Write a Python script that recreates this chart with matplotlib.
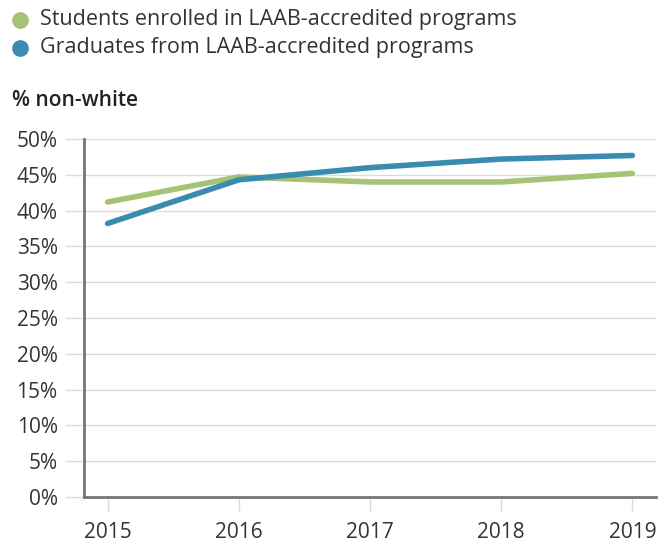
import matplotlib
matplotlib.use("Agg")
import matplotlib.pyplot as plt
from matplotlib.lines import Line2D

years = [2015, 2016, 2017, 2018, 2019]
enrolled = [41.2, 44.7, 44.0, 44.0, 45.2]
graduates = [38.2, 44.3, 46.0, 47.2, 47.7]
y_ticks = [0, 5, 10, 15, 20, 25, 30, 35, 40, 45, 50]
y_labels = [f"{v}%" for v in y_ticks]
series_names = ["Students enrolled in LAAB-accredited programs",
                "Graduates from LAAB-accredited programs"]

GREEN = "#a5c374"
BLUE = "#3a8bb0"
TEXT = "#333333"
GRID = "#dcdcdc"
AXIS = "#77766f"

plt.rcParams["font.family"] = ["Open Sans", "DejaVu Sans"]

fig = plt.figure(figsize=(6.69, 5.44), dpi=100)
ax = fig.add_axes([84 / 669, 47 / 544, (656 - 84) / 669, (497 - 139) / 544])

ax.plot(years, enrolled, color=GREEN, lw=4, solid_capstyle="round", zorder=3)
ax.plot(years, graduates, color=BLUE, lw=4, solid_capstyle="round", zorder=4)

ax.set_xlim(2014.82, 2019.18)
ax.set_ylim(0, 50)
ax.set_yticks(y_ticks)
ax.set_yticklabels(y_labels)
ax.set_xticks(years)
ax.set_xticklabels([str(y) for y in years])

ax.grid(axis="y", color=GRID, lw=1, zorder=0)
ax.tick_params(axis="y", length=14, width=1, color=GRID, labelsize=15,
               labelcolor=TEXT, pad=5)
ax.tick_params(axis="x", length=11, width=1, color=GRID, labelsize=15,
               labelcolor=TEXT, pad=7)

for side in ["top", "right"]:
    ax.spines[side].set_visible(False)
for side in ["left", "bottom"]:
    ax.spines[side].set_color(AXIS)
    ax.spines[side].set_linewidth(2)
ax.spines["left"].set_bounds(0, 50)

# Legend drawn as marker + text at the top of the figure
for i, (name, col) in enumerate(zip(series_names, [GREEN, BLUE])):
    yy = 1 - (20 + 28 * i) / 544
    fig.add_artist(Line2D([20 / 669], [yy], marker="o", markersize=11,
                          color=col, transform=fig.transFigure))
    fig.text(40 / 669, yy, name, fontsize=15.5, color=TEXT, va="center",
             ha="left")

fig.text(12 / 669, 1 - 100 / 544, "% non-white", fontsize=15, color="#222222",
         va="center", ha="left", fontweight="semibold")

fig.savefig("out.png", dpi=100)
